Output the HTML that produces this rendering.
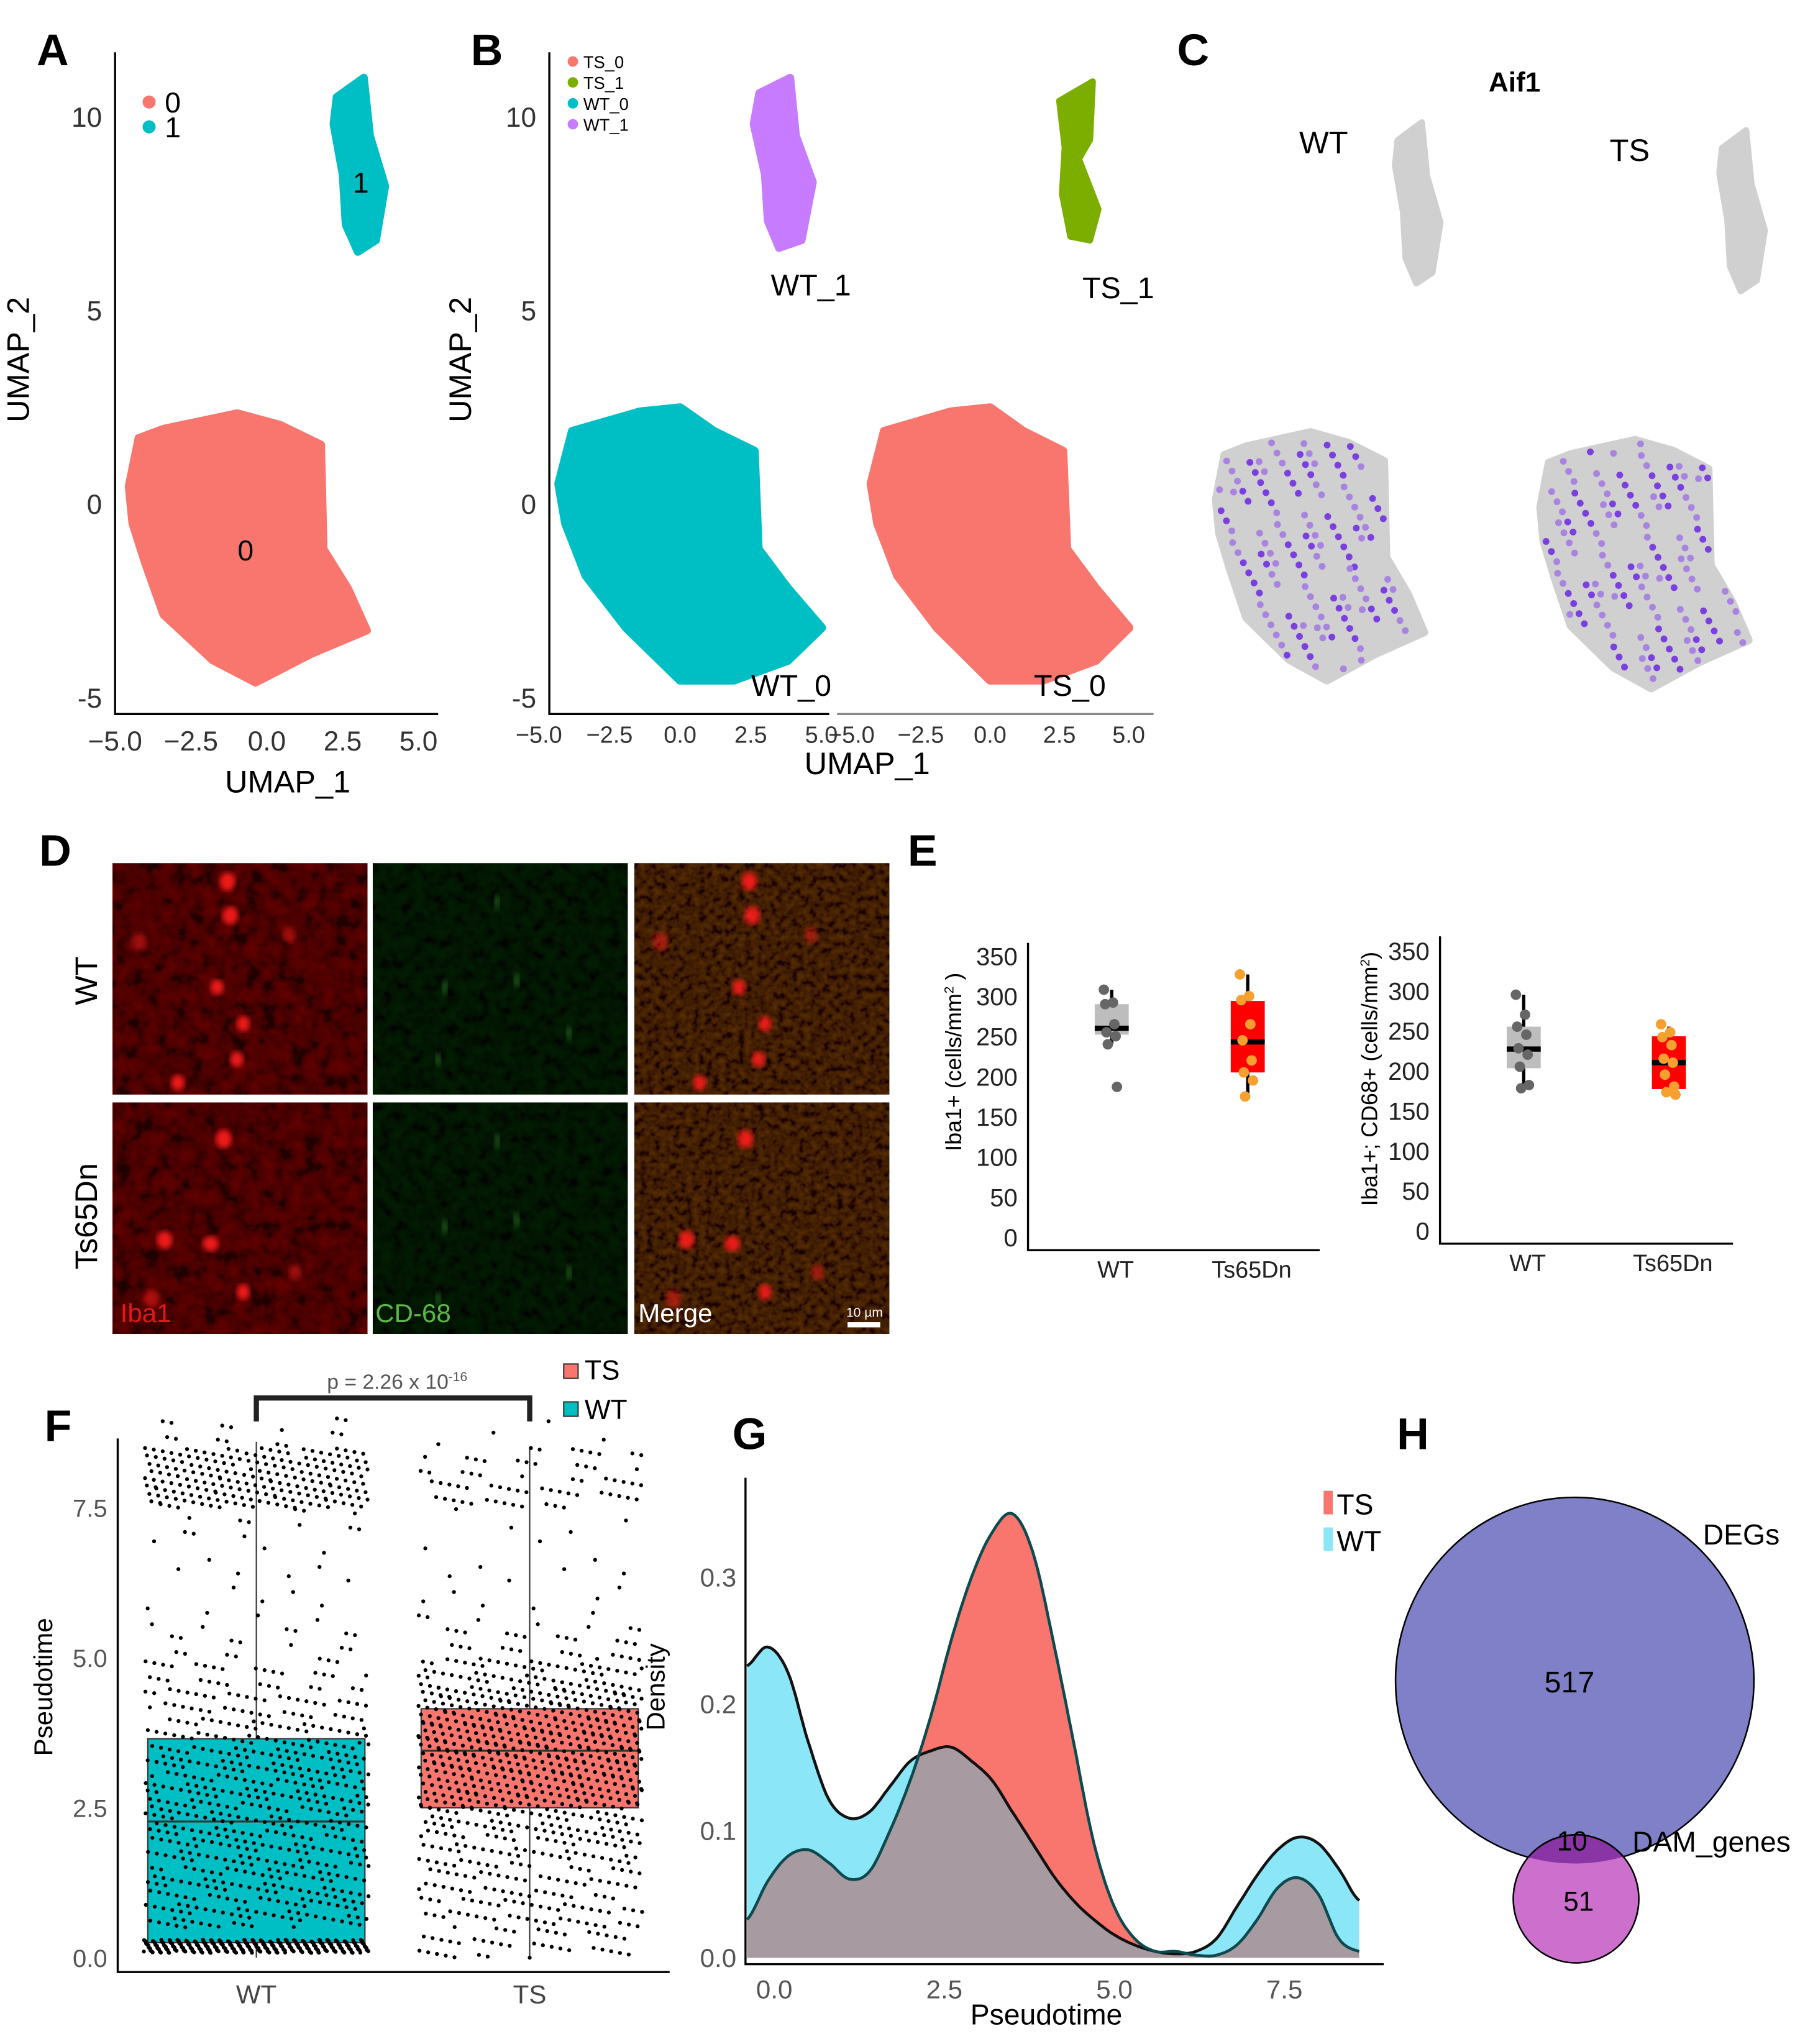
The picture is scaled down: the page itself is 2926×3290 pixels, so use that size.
<!DOCTYPE html>
<html><head><meta charset="utf-8"><style>
html,body{margin:0;padding:0;background:#fff}
svg{display:block}
text{font-family:"Liberation Sans Narrow","Liberation Sans",sans-serif}
.lab{font-family:"Liberation Sans",sans-serif;font-weight:bold;font-size:34px}
.ax{stroke:#000;stroke-width:1.6;fill:none}
.tk{font-size:21px;fill:#333}
</style></head><body>
<svg id="fig" width="2926" height="3290" viewBox="0 0 1390 1563" preserveAspectRatio="none" xmlns="http://www.w3.org/2000/svg">
<defs>
<filter id="blur2"><feGaussianBlur stdDeviation="2.2"/></filter>
<filter id="noiseR" x="0" y="0" width="100%" height="100%"><feTurbulence type="fractalNoise" baseFrequency="0.09" numOctaves="3" seed="3"/><feColorMatrix values="0.7 0 0 0 -0.2  0 0 0 0 0  0 0 0 0 0  0 0 0 0 1"/></filter>
<filter id="noiseG" x="0" y="0" width="100%" height="100%"><feTurbulence type="fractalNoise" baseFrequency="0.12" numOctaves="2" seed="7"/><feColorMatrix values="0 0 0 0 0  0.12 0 0 0 -0.03  0 0 0 0 0  0 0 0 0 1"/></filter>
<filter id="noiseM" x="0" y="0" width="100%" height="100%"><feTurbulence type="fractalNoise" baseFrequency="0.2" numOctaves="2" seed="11"/><feColorMatrix values="0.55 0 0 0 -0.15  0.2 0 0 0 -0.06  0 0 0 0 0  0 0 0 0 1"/></filter>
</defs>

<text class="lab" x="28" y="50">A</text>
<text class="lab" x="360" y="50">B</text>
<text class="lab" x="900" y="50">C</text>
<text class="lab" x="30" y="662">D</text>
<text class="lab" x="694" y="662">E</text>
<text class="lab" x="34" y="1102">F</text>
<text class="lab" x="560" y="1108">G</text>
<text class="lab" x="1068" y="1108">H</text>

<g id="pa">
<path class="ax" d="M88,40 V546 H335"/>
<text x="22" y="275" transform="rotate(-90 22 275)" text-anchor="middle" style="font-family:'Liberation Sans',sans-serif;font-size:24px">UMAP_2</text>
<text x="220" y="606" text-anchor="middle" style="font-family:'Liberation Sans',sans-serif;font-size:24px">UMAP_1</text>
<circle cx="114" cy="78" r="5" fill="#f8766d"/>
<text x="126" y="86" style="font-size:22px">0</text>
<circle cx="114" cy="97" r="5" fill="#00bfc4"/>
<text x="126" y="105" style="font-size:22px">1</text>
</g>

<g id="pb">
<path class="ax" d="M420,40 V546 H634"/>
<path class="ax" style="stroke:#888" d="M640,546 H882"/>
<text x="360" y="275" transform="rotate(-90 360 275)" text-anchor="middle" style="font-family:'Liberation Sans',sans-serif;font-size:24px">UMAP_2</text>
<text x="663" y="592" text-anchor="middle" style="font-family:'Liberation Sans',sans-serif;font-size:24px">UMAP_1</text>
<circle cx="438" cy="47" r="4" fill="#f8766d"/>
<text x="446" y="52" style="font-size:13px">TS_0</text>
<circle cx="438" cy="63" r="4" fill="#7cae00"/>
<text x="446" y="68" style="font-size:13px">TS_1</text>
<circle cx="438" cy="79" r="4" fill="#00bfc4"/>
<text x="446" y="84" style="font-size:13px">WT_0</text>
<circle cx="438" cy="95" r="4" fill="#c77cff"/>
<text x="446" y="100" style="font-size:13px">WT_1</text>
</g>

<g id="pc">
<text x="1158" y="70" text-anchor="middle" style="font-family:'Liberation Sans',sans-serif;font-weight:bold;font-size:21px">Aif1</text>
<text x="1012" y="117" text-anchor="middle" style="font-size:24px">WT</text>
<text x="1246" y="123" text-anchor="middle" style="font-size:24px">TS</text>
</g>

<g id="pd">
<text x="74" y="750" transform="rotate(-90 74 750)" text-anchor="middle" style="font-family:'Liberation Sans',sans-serif;font-size:24px">WT</text>
<text x="74" y="930" transform="rotate(-90 74 930)" text-anchor="middle" style="font-family:'Liberation Sans',sans-serif;font-size:24px">Ts65Dn</text>
</g>

<g id="pe">
<text x="735" y="812" transform="rotate(-90 735 812)" text-anchor="middle" style="font-family:'Liberation Sans',sans-serif;font-size:17px">Iba1+ (cells/mm<tspan dy="-6" font-size="10">2</tspan><tspan dy="6"> )</tspan></text>
<text x="1053" y="825" transform="rotate(-90 1053 825)" text-anchor="middle" style="font-family:'Liberation Sans',sans-serif;font-size:17px">Iba1+; CD68+ (cells/mm<tspan dy="-6" font-size="10">2</tspan><tspan dy="6">)</tspan></text>
</g>

<g id="pf">
<path class="ax" d="M90,1100 V1508 H512"/>
<text x="40" y="1290" transform="rotate(-90 40 1290)" text-anchor="middle" style="font-family:'Liberation Sans',sans-serif;font-size:20px">Pseudotime</text>
<path d="M196,1087 V1069 H405 V1087" stroke="#222" stroke-width="4" fill="none"/>
<text x="250" y="1062" style="font-size:16px;fill:#555">p = 2.26 x 10<tspan dy="-6" font-size="10">-16</tspan></text>
<rect x="431" y="1043" width="11" height="11" fill="#f8766d" stroke="#333" stroke-width="1"/>
<text x="447" y="1055" style="font-size:21px">TS</text>
<rect x="431" y="1072" width="11" height="11" fill="#00bfc4" stroke="#333" stroke-width="1"/>
<text x="447" y="1085" style="font-size:21px">WT</text>
</g>

<g id="pg">
<text x="508" y="1290" transform="rotate(-90 508 1290)" text-anchor="middle" style="font-family:'Liberation Sans',sans-serif;font-size:20px">Density</text>
<text x="800" y="1548" text-anchor="middle" style="font-size:22px">Pseudotime</text>
<rect x="1012" y="1140" width="7" height="18" fill="#f8766d"/>
<text x="1022" y="1158" style="font-size:22px">TS</text>
<rect x="1012" y="1168" width="7" height="18" fill="#8be7f8"/>
<text x="1022" y="1186" style="font-size:22px">WT</text>
</g>

<g id="ph">
<ellipse cx="1204" cy="1285" rx="137" ry="140" fill="#8080c8" stroke="#000" stroke-width="1.2"/>
<ellipse cx="1205" cy="1452" rx="48" ry="49" fill="#cd6fcd" stroke="#000" stroke-width="1.2"/>
<clipPath id="bigc"><ellipse cx="1204" cy="1285" rx="137" ry="140"/></clipPath>
<ellipse cx="1205" cy="1452" rx="48" ry="49" fill="#8a35a6" stroke="#000" stroke-width="1.2" clip-path="url(#bigc)"/>
<text x="1200" y="1294" text-anchor="middle" style="font-size:23px">517</text>
<text x="1202" y="1415" text-anchor="middle" style="font-size:21px">10</text>
<text x="1207" y="1461" text-anchor="middle" style="font-size:21px">51</text>
<text x="1302" y="1181" style="font-size:22px">DEGs</text>
<text x="1248" y="1416" style="font-size:22px">DAM_genes</text>
</g>
</svg>

<script>
var c0x=[-4.55,-4.23,-3.41,-0.98,0.45,1.79,1.87,2.68,3.3,1.46,-0.37,-1.79,-3.41,-4.02,-4.43];
var c0y=[0.44,1.69,1.93,2.33,2.03,1.52,-1.18,-2.2,-3.28,-3.89,-4.63,-4.05,-2.87,-1.52,-0.51];
var c1x=[2.3,3.2,3.4,3.9,3.6,3.0,2.6,2.5,2.2];
var c1y=[10.5,11,9.5,8.2,6.8,6.5,7.2,8.5,9.8];
var wt0x=[-4.29,-3.81,-1.43,0,1.19,2.62,2.76,3.81,5.0,3.81,1.9,0,-1.9,-3.33,-4.05];
var wt0y=[0.51,1.86,2.36,2.47,1.86,1.35,-1.18,-2.2,-3.21,-4.05,-4.56,-4.56,-3.21,-1.86,-0.51];
var wt1x=[2.8,3.9,4.1,4.7,4.3,3.5,3.1,3.0,2.6];
var wt1y=[10.6,11,9.5,8.3,6.8,6.6,7.3,8.5,9.8];
var ts1x=[2.5,3.7,3.6,3.2,3.9,3.6,2.9,2.6,2.7];
var ts1y=[10.4,10.9,9.4,8.9,7.6,6.8,6.9,8.0,9.2];
var umapXTicks=[-5,-2.5,0,2.5,5];
var umapXTickLabels=["−5.0","−2.5","0.0","2.5","5.0"];
var umapYTicks=[-5,0,5,10];
var eCats=["WT","Ts65Dn"];
var eTicks=[0,50,100,150,200,250,300,350];
var eLeftBox=[[240,252,260,290,308],[175,205,243,294,327]];
var eLeftPts=[[308,292,290,265,255,250,240,187],[327,300,295,265,245,220,205,195,175]];
var eRightBox=[[180,203,227,255,295],[170,177,210,243,255]];
var eRightPts=[[295,270,255,245,228,220,205,182,178],[258,248,242,232,215,210,195,180,173,170]];
var fCats=["WT","TS"];
var fTicks=[0,2.5,5,7.5];
var fTickLabels=["0.0","2.5","5.0","7.5"];
var wtBins=[420,70,70,70,75,80,80,60,45,30,15,8,6,5,12,110,100,15];
var tsBins=[40,50,50,60,80,120,140,140,120,70,25,10,6,4,4,40,25,4];
var fBoxWT=[0,0.25,2.27,3.65,8.6];
var fBoxTS=[0,2.5,3.45,4.15,8.5];
var gX=[-0.4,-0.1,0.2,0.5,0.8,1.1,1.4,1.7,2.0,2.3,2.6,2.9,3.2,3.5,3.8,4.1,4.4,4.7,5.0,5.3,5.6,5.9,6.2,6.5,6.8,7.1,7.4,7.7,8.0,8.3,8.6];
var gWT=[0.23,0.245,0.225,0.17,0.125,0.11,0.115,0.135,0.155,0.163,0.166,0.155,0.14,0.115,0.09,0.065,0.045,0.03,0.018,0.01,0.005,0.003,0.005,0.015,0.04,0.065,0.085,0.095,0.09,0.07,0.045];
var gTS=[0.03,0.06,0.08,0.085,0.075,0.062,0.068,0.1,0.14,0.19,0.25,0.3,0.335,0.35,0.32,0.25,0.17,0.09,0.04,0.015,0.005,0.005,0.002,0.002,0.01,0.03,0.055,0.063,0.05,0.015,0.005];
var gYTicks=[0,0.1,0.2,0.3];
var gXTicks=[0,2.5,5,7.5];

var NS="http://www.w3.org/2000/svg";
function mk(tag,attrs,parent){var e=document.createElementNS(NS,tag);for(var k in attrs)e.setAttribute(k,attrs[k]);(parent||document.getElementById('fig')).appendChild(e);return e;}
function txt(s,x,y,size,anchor,parent,fill){var e=mk('text',{x:x,y:y,'text-anchor':anchor||'middle',style:'font-size:'+size+'px;fill:'+(fill||'#333')},parent);e.textContent=s;return e;}
function poly(xs,ys,sx,sy){var p=[];for(var i=0;i<xs.length;i++)p.push(sx(xs[i]).toFixed(1)+','+sy(ys[i]).toFixed(1));return p.join(' ');}
function frac(v){return v-Math.floor(v);}
function inPoly(px,py,xs,ys){var c=false;for(var i=0,j=xs.length-1;i<xs.length;j=i++){if(((ys[i]>py)!=(ys[j]>py))&&(px<(xs[j]-xs[i])*(py-ys[i])/(ys[j]-ys[i])+xs[i]))c=!c;}return c;}
function lin(d0,d1,r0,r1){return function(v){return r0+(v-d0)*(r1-r0)/(d1-d0);};}

var pa=document.getElementById('pa');
var ax=lin(0,2.5,204,262), ay=lin(0,5,385,237);
umapXTicks.forEach(function(t,i){var e=txt(umapXTickLabels[i],ax(t),574,21,'middle',pa);

});
umapYTicks.forEach(function(t){var e=txt(String(t),78,ay(t)+8,21,'end',pa);

});
var p=mk('polygon',{points:poly(c0x,c0y,ax,ay),fill:'#f8766d',stroke:'#f8766d','stroke-width':6,'stroke-linejoin':'round'},pa);


p=mk('polygon',{points:poly(c1x,c1y,ax,ay),fill:'#00bfc4',stroke:'#00bfc4','stroke-width':6,'stroke-linejoin':'round'},pa);


var t=txt('0',ax(-0.7),ay(-1.2)+8,22,'middle',pa,'#000');


t=txt('1',ax(3.1),ay(8.3)+8,22,'middle',pa,'#000');



var pb=document.getElementById('pb');
var bxL=lin(0,2.5,520,574), bxR=lin(0,2.5,757,810), by=ay;
umapXTicks.forEach(function(tk,i){var e=txt(umapXTickLabels[i],bxL(tk),568,18,'middle',pb);


e=txt(umapXTickLabels[i],bxR(tk),568,18,'middle',pb);

});
umapYTicks.forEach(function(tk){var e=txt(String(tk),410,by(tk)+8,21,'end',pb);

});
p=mk('polygon',{points:poly(wt0x,wt0y,bxL,by),fill:'#00bfc4',stroke:'#00bfc4','stroke-width':7,'stroke-linejoin':'round'},pb);


p=mk('polygon',{points:poly(wt0x,wt0y,bxR,by),fill:'#f8766d',stroke:'#f8766d','stroke-width':7,'stroke-linejoin':'round'},pb);


p=mk('polygon',{points:poly(wt1x,wt1y,bxL,by),fill:'#c77cff',stroke:'#c77cff','stroke-width':6,'stroke-linejoin':'round'},pb);


p=mk('polygon',{points:poly(ts1x,ts1y,bxR,by),fill:'#7cae00',stroke:'#7cae00','stroke-width':5,'stroke-linejoin':'round'},pb);


[['WT_1',620,226],['TS_1',855,228],['WT_0',605,532],['TS_0',818,532]].forEach(function(l){var e=txt(l[0],l[1],l[2],23,'middle',pb,'#000');

});

var pc=document.getElementById('pc');
function drawC(x0,y0,seed){
 var sx=lin(0,1,x0,x0+20.3), sy=lin(0,1,y0,y0-27.3);
 var e=mk('polygon',{points:poly(c0x,c0y,sx,sy),fill:'#d0d0d0',stroke:'#d0d0d0','stroke-width':6,'stroke-linejoin':'round'},pc);
 
 
 e=mk('polygon',{points:poly(c1x,c1y,sx,sy),fill:'#d0d0d0',stroke:'#d0d0d0','stroke-width':5,'stroke-linejoin':'round'},pc);
 
 
 for(var k=0;k<900;k++){var dx=-4.6+frac(k*0.7548+seed)*8,dy=-4.7+frac(k*0.5698+seed*0.3)*7.1;
  if(inPoly(dx,dy,c0x,c0y)&&frac(k*0.318+seed)<0.22){var d=mk('circle',{cx:sx(dx),cy:sy(dy),r:2.6,fill:frac(k*0.41)<0.5?'#7b3fe0':'#a884e0'},pc);
  
  }}
}
drawC(1022,394,0.13);drawC(1270,400,0.57);

var pd=document.getElementById('pd');
var cols=[[86,195],[285,195],[485,195]], rows=[[660,177],[843,177]];
var cells=[[[88,14],[90,40],[20,60],[80,95],[100,123],[135,55],[95,150],[50,168]],[[85,28],[40,105],[30,150],[75,108],[100,145],[140,130]]];
rows.forEach(function(r,ri){cols.forEach(function(c,ci){
 var g=mk('g',{},pd);
 
 
 mk('rect',{x:c[0],y:r[0],width:c[1],height:r[1],fill:ci==1?'#020402':(ci==0?'#200000':'#180402')},g);
 mk('rect',{x:c[0],y:r[0],width:c[1],height:r[1],filter:'url(#'+(ci==0?'noiseR':ci==1?'noiseG':'noiseM')+')',opacity:ci==1?0.35:0.45,style:'mix-blend-mode:screen'},g);
 if(ci!=1){cells[ri].forEach(function(pt,k){mk('ellipse',{cx:c[0]+pt[0],cy:r[0]+pt[1],rx:k<3||ri==1&&k<4?6:5,ry:k<3?7:6,fill:'#ff1a1a',opacity:k%3==2?0.5:0.9,filter:'url(#blur2)'},g);});}
 else{[[110,90],[55,95],[150,130],[95,30],[50,150]].forEach(function(pt){mk('ellipse',{cx:c[0]+pt[0],cy:r[0]+pt[1],rx:2,ry:6,fill:'#3c9a30',opacity:0.5,filter:'url(#blur2)'},g);});}
});});
var l=txt('Iba1',92,1011,20,'start',pd,'#e01818');l.setAttribute('style','font-family:"Liberation Sans",sans-serif;font-size:20px;fill:#e01818');


l=txt('CD-68',287,1011,20,'start',pd,'#5cb84a');l.setAttribute('style','font-family:"Liberation Sans",sans-serif;font-size:20px;fill:#5cb84a');


l=txt('Merge',488,1011,20,'start',pd,'#fff');l.setAttribute('style','font-family:"Liberation Sans",sans-serif;font-size:20px;fill:#fff');


l=txt('10 µm',661,1007,10,'middle',pd,'#fff');


l=mk('rect',{x:648,y:1011,width:25,height:4,fill:'#fff'},pd);



var pe=document.getElementById('pe');
function drawE(axisX,axisEndX,axisY,topY,y0px,y350px,catX,box,pts,side){
 var sy=lin(0,350,y0px,y350px);
 var a=mk('path',{d:'M'+axisX+','+topY+' V'+axisY+' H'+axisEndX,'class':'ax','stroke-width':2.2},pe);
 
 
 eTicks.forEach(function(tk){var e=txt(String(tk),axisX-8,sy(tk)+7,19,'end',pe,'#222');
  
  });
 eCats.forEach(function(cn,i){
  var e=txt(cn,catX[i],axisY+21,18,'middle',pe,'#222');
  
  
  var b=box[i],cx=catX[i]-3,w=26;
  var wh=mk('line',{x1:cx,x2:cx,y1:sy(b[0]),y2:sy(b[4]),stroke:'#000','stroke-width':2.5},pe);
  
  
  var r=mk('rect',{x:cx-w/2,y:sy(b[3]),width:w,height:sy(b[1])-sy(b[3]),fill:i==0?'#bdbdbd':'#ff0000'},pe);
  
  
  var m=mk('line',{x1:cx-w/2,x2:cx+w/2,y1:sy(b[2]),y2:sy(b[2]),stroke:'#000','stroke-width':4},pe);
  
  
  pts[i].forEach(function(v,k){var d=mk('circle',{cx:cx+((k*7)%13-6),cy:sy(v),r:4,fill:i==0?'#666':'#f7a030'},pe);
   
   });
 });
}
drawE(786,1009,956,721,946,731,[853,957],eLeftBox,eLeftPts,'left');
drawE(1101,1325,951,716,941,727,[1168,1279],eRightBox,eRightPts,'right');

var pf=document.getElementById('pf');
var fy=lin(0,7.5,1497,1153);
var fCenters=[196,405];
fTicks.forEach(function(tk,i){var e=txt(fTickLabels[i],82,fy(tk)+7,19,'end',pf,'#555');
 
 });
fCats.forEach(function(cn,i){var e=txt(cn,fCenters[i],1532,20,'middle',pf,'#444');
 
 });
[fBoxWT,fBoxTS].forEach(function(b,i){
 var cx=fCenters[i],w=166;
 var wl=mk('line',{x1:cx,x2:cx,y1:fy(b[0]),y2:fy(b[4]),stroke:'#333','stroke-width':1},pf);
 
 
 var r=mk('rect',{x:cx-w/2,y:fy(b[3]),width:w,height:fy(b[1])-fy(b[3]),fill:i==0?'#00bfc4':'#f8766d',stroke:'#333','stroke-width':1},pf);
 
 
 var m=mk('line',{x1:cx-w/2,x2:cx+w/2,y1:fy(b[2]),y2:fy(b[2]),stroke:'#333','stroke-width':1.5},pf);
 
 
});
var jg=mk('g',{fill:'#000'},pf);


[wtBins,tsBins].forEach(function(bins,gi){
 var cx=fCenters[gi];
 bins.forEach(function(n,bi){for(var k=0;k<n;k++){
  var yv=bi*0.5+(gi==0&&bi==0?0.08+0.22*frac(k*0.618+0.1):0.5*frac(k*0.618034+bi*0.31));
  var xv=cx+(frac(k*0.754878+bi*0.137+gi*0.5)-0.5)*172;
  var c=mk('circle',{cx:xv.toFixed(1),cy:fy(yv).toFixed(1),r:1.5},jg);
  
  }});
});

var pg=document.getElementById('pg');
var gx=lin(0,2.5,592,722), gy=lin(0,0.1,1497,1400);
function spl(ys,x){var h=gX[1]-gX[0];var i=Math.floor((x-gX[0])/h);i=Math.max(0,Math.min(gX.length-2,i));var t=(x-gX[i])/h;
 var p0=ys[Math.max(0,i-1)],p1=ys[i],p2=ys[i+1],p3=ys[Math.min(ys.length-1,i+2)];
 var v=0.5*((2*p1)+(-p0+p2)*t+(2*p0-5*p1+4*p2-p3)*t*t+(-p0+3*p1-3*p2+p3)*t*t*t);return Math.max(0,v);}
var N=240,xs=[];for(var k=0;k<=N;k++)xs.push(gX[0]+(gX[gX.length-1]-gX[0])*k/N);
function areaPath(fn){var d='M'+gx(xs[0]).toFixed(1)+','+gy(0).toFixed(1);xs.forEach(function(x){d+=' L'+gx(x).toFixed(1)+','+gy(fn(x)).toFixed(1);});return d+' L'+gx(xs[N]).toFixed(1)+','+gy(0).toFixed(1)+' Z';}
function linePath(fn){var d='';xs.forEach(function(x,i){d+=(i?' L':'M')+gx(x).toFixed(1)+','+gy(fn(x)).toFixed(1);});return d;}
var fw=function(x){return spl(gWT,x);}, ft=function(x){return spl(gTS,x);};
var a1=mk('path',{d:areaPath(fw),fill:'#8be7f8'},pg);


var a2=mk('path',{d:areaPath(ft),fill:'#f8766d'},pg);


var a3=mk('path',{d:areaPath(function(x){return Math.min(fw(x),ft(x));}),fill:'#a89aa1'},pg);


var l1=mk('path',{d:linePath(fw),fill:'none',stroke:'#111','stroke-width':2.2},pg);


var l2=mk('path',{d:linePath(ft),fill:'none',stroke:'#0d4a4f','stroke-width':2.2},pg);


var ga=mk('path',{d:'M570,1130 V1502 H1058','class':'ax'},pg);


gYTicks.forEach(function(tk){var e=txt(tk.toFixed(1),563,gy(tk)+7,20,'end',pg,'#555');
 
 });
gXTicks.forEach(function(tk){var e=txt(tk.toFixed(1),gx(tk),1528,20,'middle',pg,'#555');
 
 });
</script>
</body></html>
